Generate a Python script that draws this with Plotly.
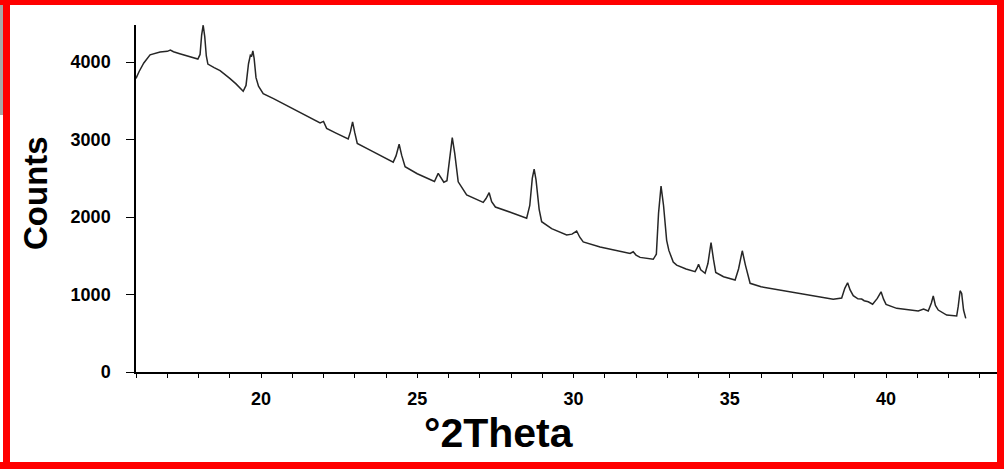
import plotly.graph_objects as go

two_theta = [16.00, 16.10, 16.25, 16.45, 16.77, 17.00, 17.10, 17.20, 17.40, 17.70, 17.98,
             18.05, 18.10, 18.15, 18.20, 18.25, 18.30, 18.50, 18.69, 19.00, 19.20, 19.43,
             19.52, 19.60, 19.66, 19.70, 19.74, 19.78, 19.84, 19.92, 20.07, 20.40, 20.71,
             21.00, 21.50, 21.89, 22.00, 22.10, 22.40, 22.79, 22.86, 22.93, 23.00, 23.08,
             23.49, 23.90, 24.23, 24.32, 24.42, 24.50, 24.61, 25.00, 25.30, 25.55, 25.67,
             25.75, 25.85, 25.95, 26.03, 26.12, 26.20, 26.31, 26.58, 26.85, 27.11, 27.20,
             27.30, 27.38, 27.50, 28.00, 28.50, 28.60, 28.68, 28.74, 28.80, 28.90, 28.98,
             29.30, 29.78, 29.95, 30.10, 30.20, 30.31, 30.85, 31.30, 31.81, 31.91, 32.00,
             32.13, 32.55, 32.65, 32.72, 32.80, 32.88, 32.98, 33.05, 33.19, 33.30, 33.60,
             33.89, 33.95, 34.00, 34.07, 34.21, 34.30, 34.40, 34.48, 34.55, 34.80, 35.17,
             35.28, 35.40, 35.50, 35.65, 36.00, 36.61, 37.25, 37.80, 38.31, 38.58, 38.68,
             38.77, 38.85, 38.95, 39.10, 39.22, 39.30, 39.43, 39.57, 39.72, 39.84, 39.92,
             40.00, 40.34, 40.70, 41.03, 41.20, 41.35, 41.45, 41.51, 41.58, 41.67, 41.94,
             42.26, 42.31, 42.37, 42.42, 42.48, 42.55]
counts = [3790, 3880, 3990, 4095, 4130, 4140, 4155, 4135, 4110, 4075, 4040,
          4100, 4350, 4477, 4330, 4080, 3975, 3930, 3890, 3790, 3720, 3625,
          3700, 3980, 4090, 4080, 4145, 4050, 3800, 3690, 3595, 3530, 3465,
          3400, 3300, 3215, 3235, 3145, 3085, 3010, 3100, 3230, 3090, 2950,
          2865, 2785, 2710, 2790, 2940, 2800, 2650, 2560, 2500, 2460, 2565,
          2510, 2450, 2470, 2750, 3025, 2820, 2455, 2285, 2240, 2190, 2240,
          2315, 2200, 2130, 2060, 1985, 2150, 2500, 2620, 2480, 2100, 1940,
          1850, 1770, 1780, 1820, 1740, 1680, 1615, 1575, 1530, 1552, 1510,
          1480, 1455, 1520, 2050, 2400, 2150, 1700, 1570, 1420, 1380, 1330,
          1295, 1340, 1390, 1320, 1275, 1400, 1670, 1450, 1285, 1230, 1188,
          1330, 1565, 1380, 1145, 1100, 1058, 1015, 980, 940, 955, 1080,
          1152, 1060, 985, 945, 942, 920, 907, 875, 950, 1036, 940,
          873, 822, 805, 787, 813, 787, 890, 981, 860, 800, 735,
          723, 850, 1049, 1015, 800, 693]

x_tick_vals = [20, 25, 30, 35, 40]
y_tick_vals = [0, 1000, 2000, 3000, 4000]
x_title = "°2Theta"
y_title = "Counts"

W, H = 1004, 469
L, R, T, B = 136, 7, 25, 97
pw, ph = W - L - R, H - T - B


def px(x):
    return (x - L) / pw


def py(y):
    return (H - B - y) / ph


fig = go.Figure()
fig.add_trace(go.Scatter(x=two_theta, y=counts, mode="lines",
                         line=dict(color="#262626", width=1.5), showlegend=False))

tick_font = dict(family="Liberation Sans, Arial", size=18, color="black", weight="bold")

fig.update_layout(
    width=W, height=H,
    margin=dict(l=L, r=R, t=T, b=B),
    paper_bgcolor="white", plot_bgcolor="white",
    xaxis=dict(range=[16, 43.55], tickvals=x_tick_vals, showgrid=False, zeroline=False,
               showline=True, linecolor="black", linewidth=1.5,
               ticks="outside", ticklen=4, tickcolor="black", tickwidth=1,
               minor=dict(dtick=1, tick0=16, ticks="outside", ticklen=4, tickcolor="black", showgrid=False),
               tickfont=tick_font, ticklabelstandoff=6),
    yaxis=dict(range=[0, 4480], tickvals=y_tick_vals, showgrid=False, zeroline=False,
               showline=True, linecolor="black", linewidth=1.5,
               ticks="outside", ticklen=8, tickcolor="black", tickwidth=1,
               tickfont=tick_font, ticklabelstandoff=12),
)

title_font = dict(family="Liberation Sans, Arial", color="black", weight="bold")
fig.add_annotation(text=y_title, xref="paper", yref="paper", x=px(35), y=py(193),
                   showarrow=False, textangle=-90, font=dict(size=33, **title_font),
                   xanchor="center", yanchor="middle")
fig.add_annotation(text=x_title, xref="paper", yref="paper", x=px(499), y=py(433),
                   showarrow=False, font=dict(size=41, **title_font),
                   xanchor="center", yanchor="middle")

# frame decoration
shapes = [
    dict(x0=0, x1=3, y0=0, y1=115, color="#a8a8a8"),
    dict(x0=0, x1=W, y0=0, y1=5, color="#ff0000"),
    dict(x0=0, x1=W, y0=462, y1=H, color="#ff0000"),
    dict(x0=3, x1=10, y0=0, y1=H, color="#ff0000"),
    dict(x0=997, x1=W, y0=0, y1=H, color="#ff0000"),
]
for s in shapes:
    fig.add_shape(type="rect", xref="paper", yref="paper",
                  x0=px(s["x0"]), x1=px(s["x1"]), y0=py(s["y1"]), y1=py(s["y0"]),
                  fillcolor=s["color"], line=dict(width=0), layer="above")

fig.write_html("out.html", config={"displayModeBar": False},
               post_script="document.body.style.margin='0';document.body.style.padding='0';"
                           "document.body.style.overflow='hidden';")
